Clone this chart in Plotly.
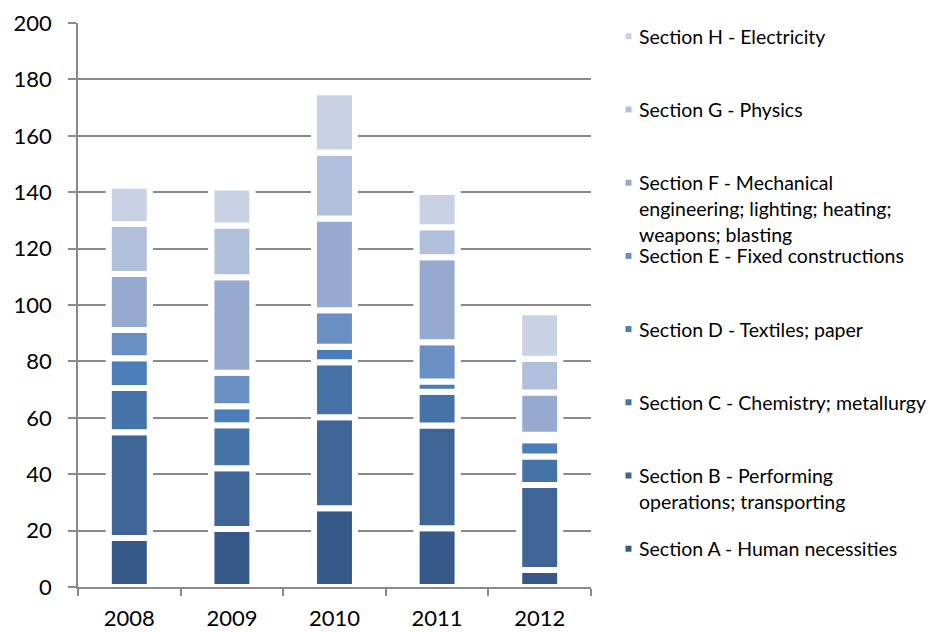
import numpy as np
import plotly.graph_objects as go

# Patent applications by IPC section, stacked per year
years = ["2008", "2009", "2010", "2011", "2012"]

section_a = [17.4, 20.6, 27.9, 20.8, 6.0]
section_b = [37.5, 21.5, 32.3, 36.5, 30.2]
section_c = [15.7, 15.3, 19.5, 11.9, 10.1]
section_d = [10.5, 6.7, 5.5, 3.7, 5.7]
section_e = [10.0, 11.9, 12.9, 13.9, 2.0]
section_f = [19.9, 33.8, 32.6, 30.1, 15.0]
section_g = [17.7, 18.4, 23.4, 10.7, 11.9]
section_h = [13.6, 13.5, 21.3, 12.5, 16.5]

section_names = [
    "Section A - Human necessities",
    "Section B - Performing operations; transporting",
    "Section C - Chemistry; metallurgy",
    "Section D - Textiles; paper",
    "Section E - Fixed constructions",
    "Section F - Mechanical engineering; lighting; heating; weapons; blasting",
    "Section G - Physics",
    "Section H - Electricity",
]
# wrapped text used in the side key
section_lines = [
    ["Section A - Human necessities"],
    ["Section B - Performing", "operations; transporting"],
    ["Section C - Chemistry; metallurgy"],
    ["Section D - Textiles; paper"],
    ["Section E - Fixed constructions"],
    ["Section F - Mechanical", "engineering; lighting; heating;", "weapons; blasting"],
    ["Section G - Physics"],
    ["Section H - Electricity"],
]
section_colors = ["#36598A", "#3E6596", "#4573A7", "#4A7DBA",
                  "#6A8FC2", "#96AAD0", "#B0BFDA", "#C9D2E5"]

series = [section_a, section_b, section_c, section_d,
          section_e, section_f, section_g, section_h]

values = np.array(series)
bases = np.vstack([np.zeros(len(years)), np.cumsum(values, axis=0)[:-1]])
totals = values.sum(axis=0)

FONT = "Lato"
GRID = "#8A8A8A"

fig = go.Figure()

# white backing so the gridlines break a little wider around each column
fig.add_trace(go.Bar(
    x=years, y=totals, base=0, width=0.458,
    marker=dict(color="white", line=dict(width=0)),
    showlegend=False, hoverinfo="skip",
))

for name, vals, base, color in zip(section_names, values, bases, section_colors):
    fig.add_trace(go.Bar(
        x=years, y=vals, base=base, name=name, width=0.399,
        marker=dict(color=color, line=dict(color="white", width=6)),
        showlegend=False,
    ))

# plot-area geometry in pixels (used to place the side key)
W, H = 930, 632
L, R, T, B = 77.7, 591.0, 22.7, 586.7


def px_to_paper_x(px):
    return (px - L) / (R - L)


def px_to_paper_y(py):
    return (B - py) / (B - T)


key_top = 36.0
key_step = 73.2
line_pitch = 26.0
annotations = []
shapes = []
for i, (lines, color) in enumerate(zip(reversed(section_lines), reversed(section_colors))):
    cy = key_top + key_step * i
    shapes.append(dict(
        type="rect", xref="paper", yref="paper",
        x0=px_to_paper_x(625.5), x1=px_to_paper_x(631.5),
        y0=px_to_paper_y(cy + 3), y1=px_to_paper_y(cy - 3),
        fillcolor=color, line=dict(width=0),
    ))
    for j, text in enumerate(lines):
        annotations.append(dict(
            text=text, xref="paper", yref="paper",
            x=px_to_paper_x(637), y=px_to_paper_y(cy + j * line_pitch),
            xanchor="left", yanchor="middle", showarrow=False,
            font=dict(family=FONT, size=19.5, color="#000000"),
        ))

fig.update_layout(
    width=W, height=H,
    margin=dict(l=L, r=W - R, t=T, b=H - B, pad=0, autoexpand=False),
    barmode="overlay",
    plot_bgcolor="white", paper_bgcolor="white",
    font=dict(family=FONT, size=22, color="#000000"),
    annotations=annotations, shapes=shapes,
)
fig.update_xaxes(
    type="category", showline=True, linecolor=GRID, linewidth=1.5,
    ticks="outside", tickson="boundaries", ticklen=7, tickcolor=GRID,
    tickwidth=1.5, showgrid=False, ticklabelstandoff=11, automargin=False,
    tickfont=dict(family=FONT, size=22, color="#000000"),
)
fig.update_yaxes(
    range=[0, 200], dtick=20, showline=True, linecolor=GRID, linewidth=1.5,
    ticks="outside", ticklen=8, tickcolor=GRID, tickwidth=1.5,
    showgrid=True, gridcolor=GRID, gridwidth=1.5, zeroline=False,
    ticklabelstandoff=12, automargin=False,
    tickfont=dict(family=FONT, size=22, color="#000000"),
)

fig.write_html("out.html")
